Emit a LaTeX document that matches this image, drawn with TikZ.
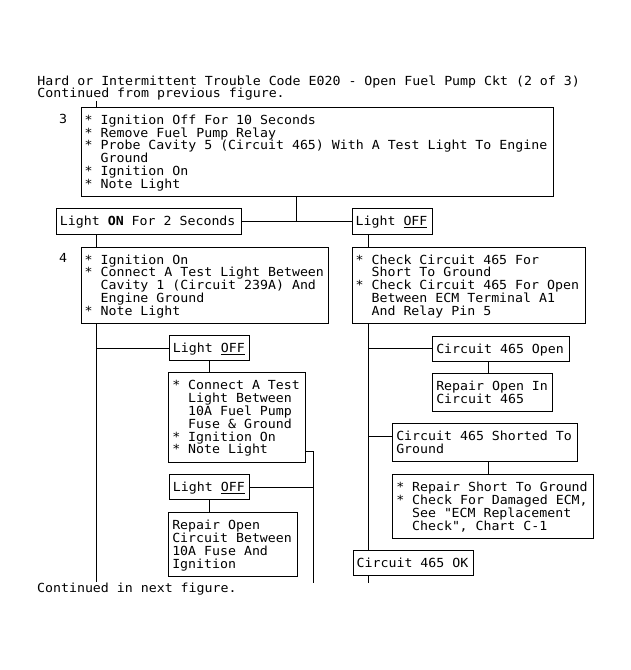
\documentclass[tikz,border=0pt]{standalone}
\usepackage{fontspec}
\setmainfont[FakeStretch=1.06]{DejaVu Sans Mono}

\newcommand{\ind}{\phantom{*}~}
\newcommand{\bul}{{*}~}

\begin{document}
\begin{tikzpicture}[x=1pt, y=-1pt, line width=0.9pt,
  font=\fontsize{12.5}{12.8}\selectfont,
  box/.style={draw, anchor=north west, align=left, inner xsep=3.5pt, inner ysep=4.6pt,
    execute at begin node={\spaceskip=0pt\xspaceskip=0pt\rule{0pt}{12.55pt}},
    execute at end node=\rule[-3.45pt]{0pt}{3.45pt}},
  txt/.style={anchor=base west, inner sep=0pt},
  num/.style={anchor=base, inner sep=0pt}]
\useasboundingbox (0,0) rectangle (631,670);

\node[txt] (title) at (37,85.5) {Hard or Intermittent Trouble Code E020 - Open Fuel Pump Ckt (2 of 3)};
\node[txt] (contprev) at (37,97.8) {Continued from previous figure.};

\node[num] (n3) at (63,123.5) {3};
\node[box, text width=465.3pt] (box3) at (80.7,106.7)
  {\bul Ignition Off For 10 Seconds\\
   \bul Remove Fuel Pump Relay\\
   \bul Probe Cavity 5 (Circuit 465) With A Test Light To Engine\\
   \ind Ground\\
   \bul Ignition On\\
   \bul Note Light};

\node[box, text width=177.7pt] (lighton) at (56,208.3) {Light {\bfseries ON} For 2 Seconds};
\node[box, text width=73.6pt] (lightoffA) at (351.7,208.3) {Light \underline{OFF}};

\node[num] (n4) at (63,262.5) {4};
\node[box, text width=240.6pt] (box4) at (80.7,246.5)
  {\bul Ignition On\\
   \bul Connect A Test Light Between\\
   \ind Cavity 1 (Circuit 239A) And\\
   \ind Engine Ground\\
   \bul Note Light};
\node[box, text width=226.3pt] (checkbox) at (351.7,246.5)
  {\bul Check Circuit 465 For\\
   \ind Short To Ground\\
   \bul Check Circuit 465 For Open\\
   \ind Between ECM Terminal A1\\
   \ind And Relay Pin 5};

% left branch
\node[box, text width=73.3pt] (lightoffB) at (169,335) {Light \underline{OFF}};
\node[box, text width=129.7pt] (connect) at (168.3,372.3)
  {\bul Connect A Test\\
   \ind Light Between\\
   \ind 10A Fuel Pump\\
   \ind Fuse \& Ground\\
   \bul Ignition On\\
   \bul Note Light};
\node[box, text width=73.3pt] (lightoffC) at (169,474) {Light \underline{OFF}};
\node[box, text width=121.4pt] (repairA) at (168.3,512.3)
  {Repair Open\\
   Circuit Between\\
   10A Fuse And\\
   Ignition};

% right branch
\node[box, text width=129.7pt] (open) at (432.3,335.7) {Circuit 465 Open};
\node[box, text width=112.7pt] (repopen) at (432.3,373.3) {Repair Open In\\ Circuit 465};
\node[box, text width=177.7pt] (shorted) at (392.3,423.3) {Circuit 465 Shorted To\\ Ground};
\node[box, text width=193.7pt] (repshort) at (392.3,474)
  {\bul Repair Short To Ground\\
   \bul Check For Damaged ECM,\\
   \ind See \textquotedbl ECM Replacement\\
   \ind Check\textquotedbl, Chart C-1};
\node[box, text width=113.6pt] (okbox) at (352.7,550) {Circuit 465 OK};

\node[txt] (contnext) at (36.7,592.2) {Continued in next figure.};

\coordinate (trunkL) at (96.7,0);
\coordinate (trunkM) at (313.3,0);
\coordinate (trunkR) at (368.3,0);
\coordinate (split3) at (296.7,0);
\coordinate (splitR) at (488.3,0);
\coordinate (endL) at (96.7,582);
\coordinate (endM) at (313.3,583);
\coordinate (endR) at (368.3,583);
\coordinate (connectOut) at ([yshift=11pt]connect.south east);
\coordinate (shortedIn) at ([yshift=-13pt]shorted.north west);

\draw (contprev.south -| trunkL) -- (box3.north -| trunkL);
\draw (box3.south -| split3) -- (split3 |- lighton.east);
\draw (lighton.east) -- (lightoffA.west);
\draw (lighton.south -| trunkL) -- (box4.north -| trunkL);
\draw (box4.south -| trunkL) -- (endL);
\draw (trunkL |- lightoffB.west) -- (lightoffB.west);
\draw (lightoffB.south) -- (lightoffB.south |- connect.north);
\draw (connectOut) -| (endM);
\draw (lightoffC.east) -- (lightoffC.east -| trunkM);
\draw (lightoffC.south) -- (lightoffC.south |- repairA.north);
\draw (lightoffA.south -| trunkR) -- (checkbox.north -| trunkR);
\draw (checkbox.south -| trunkR) -- (okbox.north -| trunkR);
\draw (okbox.south -| trunkR) -- (endR);
\draw (trunkR |- open.west) -- (open.west);
\draw (open.south -| splitR) -- (repopen.north -| splitR);
\draw (trunkR |- shortedIn) -- (shortedIn);
\draw (shorted.south -| splitR) -- (repshort.north -| splitR);
\end{tikzpicture}
\end{document}
